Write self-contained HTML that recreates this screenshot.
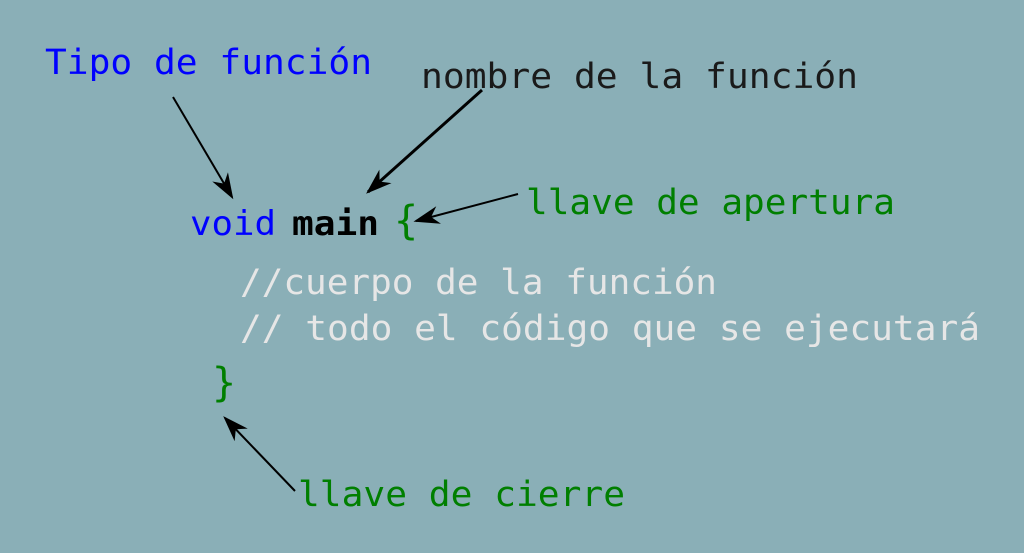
<!DOCTYPE html>
<html><head><meta charset="utf-8"><style>
html,body{margin:0;padding:0;background:#8aafb7;}
svg{display:block}
text{font-family:"DejaVu Sans Mono","Liberation Mono",monospace;}
</style></head><body>
<svg width="1024" height="553" viewBox="0 0 1024 553">
<defs>
<marker id="b" viewBox="0 0 10 10" refX="9" refY="5" markerWidth="26" markerHeight="26" markerUnits="userSpaceOnUse" orient="auto"><path d="M0,1.5 L10,5 L0,8.5 L3,5z" fill="#000"/></marker>
</defs>
<rect width="1024" height="553" fill="#8aafb7"/>
<text x="45" y="74" font-size="35" fill="#0000ff" textLength="327" lengthAdjust="spacingAndGlyphs">Tipo de función</text>
<text x="421" y="88" font-size="35" fill="#1a1a1a" textLength="437" lengthAdjust="spacingAndGlyphs">nombre de la función</text>
<text x="526" y="214" font-size="35" fill="#007f00" textLength="369" lengthAdjust="spacingAndGlyphs">llave de apertura</text>
<text x="190" y="235" font-size="34" fill="#0000ff" textLength="86" lengthAdjust="spacingAndGlyphs">void</text>
<text x="292" y="235" font-size="34" font-weight="bold" fill="#000" textLength="87" lengthAdjust="spacingAndGlyphs">main</text>
<text x="394" y="234" font-size="40" fill="#007f00">{</text>
<text x="240" y="294" font-size="35" fill="#e6e6e6" textLength="477" lengthAdjust="spacingAndGlyphs">//cuerpo de la función</text>
<text x="240" y="340" font-size="35" fill="#e6e6e6" textLength="740" lengthAdjust="spacingAndGlyphs">// todo el código que se ejecutará</text>
<text x="212" y="396" font-size="40" fill="#007f00">}</text>
<text x="298" y="506" font-size="35" fill="#007f00" textLength="327" lengthAdjust="spacingAndGlyphs">llave de cierre</text>
<line x1="173" y1="97" x2="232" y2="197" stroke="#000" stroke-width="2" marker-end="url(#b)"/>
<line x1="482" y1="90" x2="368" y2="192" stroke="#000" stroke-width="3" marker-end="url(#b)"/>
<line x1="518" y1="194" x2="416" y2="221" stroke="#000" stroke-width="2" marker-end="url(#b)"/>
<line x1="295" y1="491" x2="225" y2="418" stroke="#000" stroke-width="2" marker-end="url(#b)"/>
</svg>
</body></html>
